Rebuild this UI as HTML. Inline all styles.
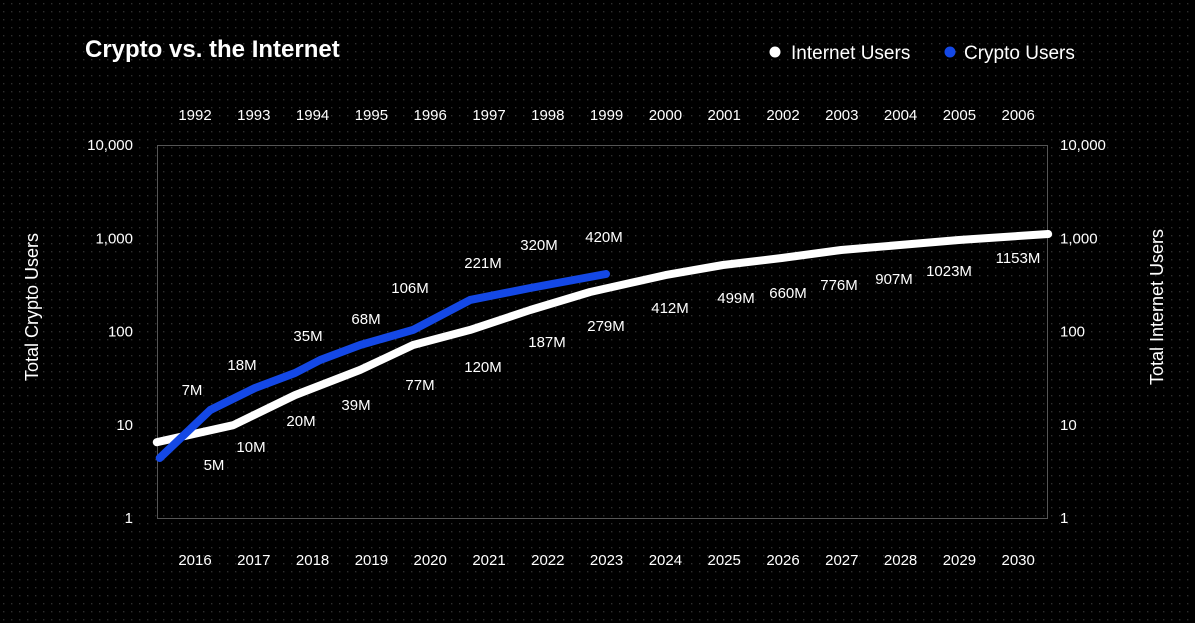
<!DOCTYPE html>
<html><head><meta charset="utf-8"><style>
html,body{margin:0;padding:0;background:#000;}
svg{display:block;font-family:"Liberation Sans",sans-serif;}
</style></head><body>
<svg id="chart" width="1195" height="623" viewBox="0 0 1195 623">
<defs><pattern id="dots" width="8" height="8" patternUnits="userSpaceOnUse"><rect x="3" y="3" width="1.4" height="1.4" fill="#2e2e2e"/></pattern></defs>
<rect width="1195" height="623" fill="#000"/>
<rect width="1195" height="623" fill="url(#dots)"/>
<text x="85" y="57" fill="#fff" font-size="24" font-weight="bold">Crypto vs. the Internet</text>
<g>
<g><circle cx="775" cy="52" r="5.5" fill="#fff"/><text x="791" y="59" fill="#fff" font-size="19">Internet Users</text></g>
<g><circle cx="950" cy="52" r="5.5" fill="#1448e6"/><text x="964" y="59" fill="#fff" font-size="19">Crypto Users</text></g>
</g>
<rect x="157.5" y="145.5" width="890" height="373" fill="none" stroke="#555" stroke-width="1"/>
<g id="axes"></g>
<g id="series"></g>
<g id="labels" fill="#fff" text-anchor="middle"></g>
<text transform="translate(38,307) rotate(-90)" text-anchor="middle" fill="#fff" font-size="18">Total Crypto Users</text>
<text transform="translate(1163,307) rotate(-90)" text-anchor="middle" fill="#fff" font-size="18">Total Internet Users</text>
</svg>
<script>
const bottomYears=[2016,2017,2018,2019,2020,2021,2022,2023,2024,2025,2026,2027,2028,2029,2030];
const topYears=[1992,1993,1994,1995,1996,1997,1998,1999,2000,2001,2002,2003,2004,2005,2006];
const yTicks=[1,10,100,1000,10000];
const yTickLabels=["1","10","100","1,000","10,000"];
const internetX=[2015.35,2016.65,2017.7,2018.81,2019.71,2020.68,2021.7,2022.72,2024.0,2024.98,2025.98,2026.99,2027.99,2028.99,2030.51];
const internetY=[6.5,9.9,20.8,38.7,71.7,104,170,265,403,517,614,748,847,958,1110];
const cryptoX=[2015.4,2016.26,2017.02,2017.7,2018.13,2018.81,2019.71,2020.68,2021.7,2022.99];
const cryptoY=[4.4,14.4,24.8,35.9,49.5,71.7,104,218,293,414];
const cryptoLabels=["7M","18M","35M","68M","106M","221M","320M","420M"];
const internetLabels=["5M","10M","20M","39M","77M","120M","187M","279M","412M","499M","660M","776M","907M","1023M","1153M"];
const cryptoLabelPos=[[192,395],[242,370],[308,341],[366,324],[410,293],[483,268],[539,250],[604,242]];
const internetLabelPos=[[214,470],[251,452],[301,426],[356,410],[420,390],[483,372],[547,347],[606,331],[670,313],[736,303],[788,298],[839,290],[894,284],[949,276],[1018,263]];
const NS="http://www.w3.org/2000/svg";
function xs(yr){return 195+(yr-2016)*58.8;}
function ys(v){return 518-Math.log10(v)*93.25;}
const axes=document.getElementById('axes');
function txt(parent,x,y,s,anchor,name){const t=document.createElementNS(NS,'text');t.setAttribute('x',x);t.setAttribute('y',y);t.setAttribute('fill','#fff');t.setAttribute('font-size','15');t.setAttribute('text-anchor',anchor);t.textContent=s;


parent.appendChild(t);return t;}
bottomYears.forEach((y,i)=>{txt(axes,xs(y),565,String(y),'middle','x-tick-bottom');});
topYears.forEach((y,i)=>{txt(axes,xs(bottomYears[i]),120,String(y),'middle','x-tick-top');});
yTicks.forEach((v,i)=>{txt(axes,133,ys(v)+5,yTickLabels[i],'end','y-tick-left');txt(axes,1060,ys(v)+5,yTickLabels[i],'start','y-tick-right');});
const series=document.getElementById('series');
function line(xa,ya,color,name){const p=document.createElementNS(NS,'path');
p.setAttribute('d',xa.map((x,i)=>(i?'L':'M')+xs(x).toFixed(1)+','+ys(ya[i]).toFixed(1)).join(''));
p.setAttribute('fill','none');p.setAttribute('stroke',color);p.setAttribute('stroke-width','8');p.setAttribute('stroke-linejoin','round');p.setAttribute('stroke-linecap','round');


series.appendChild(p);}
line(internetX,internetY,'#fff','internet-users-line');
line(cryptoX,cryptoY,'#1448e6','crypto-users-line');
const lab=document.getElementById('labels');
cryptoLabels.forEach((s,i)=>{txt(lab,cryptoLabelPos[i][0],cryptoLabelPos[i][1],s,'middle','crypto-value-label');});
internetLabels.forEach((s,i)=>{txt(lab,internetLabelPos[i][0],internetLabelPos[i][1],s,'middle','internet-value-label');});
</script>
</body></html>
